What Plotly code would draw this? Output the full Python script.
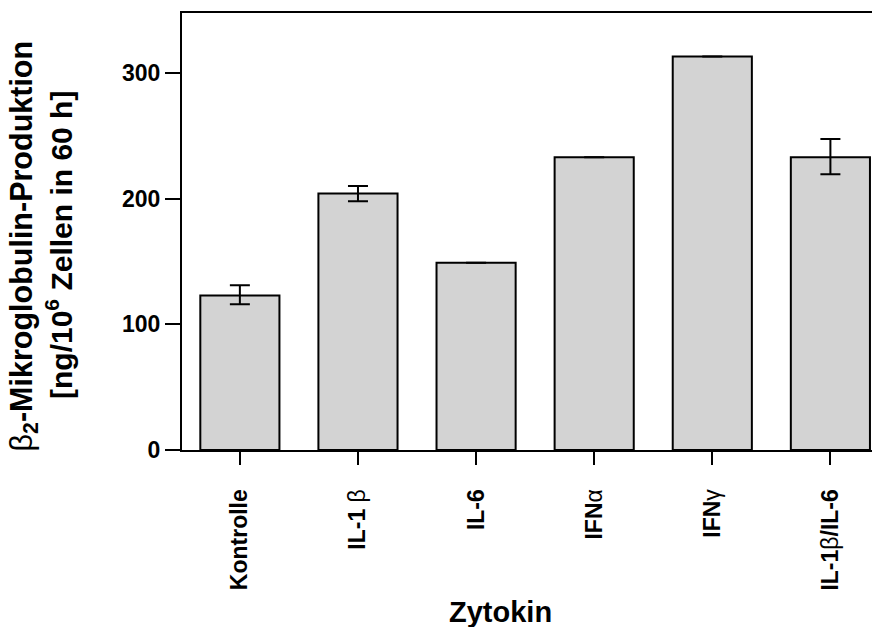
import plotly.graph_objects as go

categories = ["Kontrolle", "IL-1 β", "IL-6", "IFNα", "IFNγ", "IL-1β/IL-6"]
tick_labels = [
    "<b>Kontrolle</b>",
    "<b>IL-1 </b><span style='font-weight:normal'>β</span>",
    "<b>IL-6</b>",
    "<b>IFN</b><span style='font-weight:normal'>α</span>",
    "<b>IFN</b><span style='font-weight:normal'>γ</span>",
    "<b>IL-1</b><span style='font-weight:normal'>β</span><b>/IL-6</b>",
]
values = [123, 204, 149, 233, 313, 233]
err_plus = [8, 6, float("nan"), float("nan"), float("nan"), 14.5]
err_minus = [7, 6, float("nan"), float("nan"), float("nan"), 13.5]
y_ticks = [0, 100, 200, 300]

FONT = "Liberation Sans, Arial, Helvetica, sans-serif"

# page body has an 8px default margin; figure is sized/offset to compensate
OFF = 8
W, H = 880 - OFF, 627 - OFF
L, T, B, R = 182 - OFF, 13 - OFF, 177, 0
PW, PH = W - L - R, H - T - B  # plot area size in px


def px_x(x):  # page x -> paper x
    return (x - OFF - L) / PW


def px_y(y):  # page y -> paper y
    return (OFF + T + PH - y) / PH


fig = go.Figure()
fig.add_trace(go.Bar(
    x=categories,
    y=values,
    marker=dict(color="#d3d3d3", line=dict(color="black", width=2)),
    error_y=dict(type="data", symmetric=False, array=err_plus, arrayminus=err_minus,
                 color="black", thickness=2, width=10),
    width=0.67,
))

fig.update_layout(
    width=W, height=H,
    margin=dict(l=L, r=R, t=T, b=B, pad=0),
    paper_bgcolor="white", plot_bgcolor="white",
    showlegend=False,
    font=dict(family=FONT, size=23, color="black"),
    xaxis=dict(
        type="category",
        categoryorder="array", categoryarray=categories,
        range=[-0.49, 5.42],
        tickmode="array", tickvals=categories, ticktext=tick_labels,
        tickangle=-90,
        ticks="outside", ticklen=13, tickwidth=2, tickcolor="black",
        ticklabelstandoff=15,
        showline=True, linecolor="black", linewidth=2, mirror=True,
        showgrid=False, zeroline=False,
        tickfont=dict(family=FONT, size=23, color="black"),
    ),
    yaxis=dict(
        range=[0, 347.7],
        tickmode="array", tickvals=y_ticks,
        ticktext=[f"<b>{v}</b>" for v in y_ticks],
        ticks="outside", ticklen=15, tickwidth=2, tickcolor="black",
        showline=True, linecolor="black", linewidth=2, mirror=False,
        showgrid=False, zeroline=False,
        tickfont=dict(family=FONT, size=23, color="black"),
    ),
    annotations=[
        dict(text="<b>Zytokin</b>", xref="paper", yref="paper",
             x=px_x(500), y=px_y(612), xanchor="center", yanchor="middle",
             showarrow=False, font=dict(family=FONT, size=29, color="black")),
        dict(text="<span style='font-weight:normal'>β</span><b><sub>2</sub>-Mikroglobulin-Produktion</b>",
             xref="paper", yref="paper",
             x=px_x(23.5), y=px_y(246), xanchor="center", yanchor="middle",
             textangle=-90, showarrow=False, font=dict(family=FONT, size=30.5, color="black")),
        dict(text="<b>[ng/10<sup>6</sup> Zellen in 60 h]</b>",
             xref="paper", yref="paper",
             x=px_x(59), y=px_y(245), xanchor="center", yanchor="middle",
             textangle=-90, showarrow=False, font=dict(family=FONT, size=30, color="black")),
    ],
)

fig.write_html("out.html")
